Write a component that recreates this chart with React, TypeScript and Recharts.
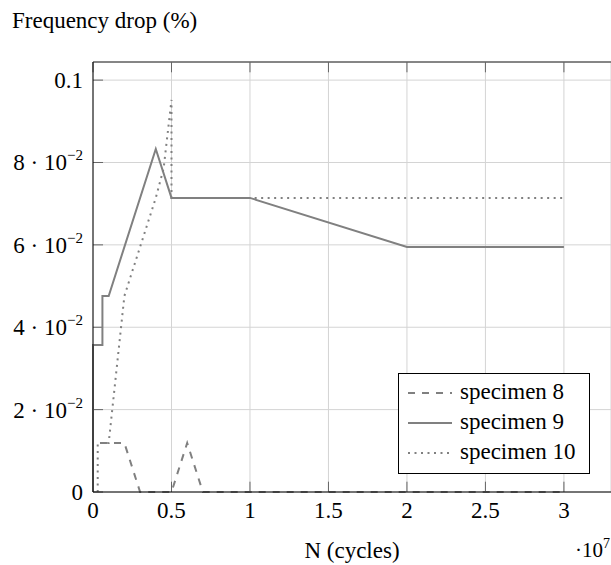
import React from "react";
import {
    LineChart,
    Line,
    XAxis,
    YAxis,
    CartesianGrid,
    Legend,
    ReferenceLine,
} from "recharts";

const FONT = "'Liberation Serif', 'DejaVu Serif', serif";
const GRAY = "#808080";

// axis ticks
const X_TICKS = [0, 0.5, 1, 1.5, 2, 2.5, 3];
const X_TICK_LABELS = ["0", "0.5", "1", "1.5", "2", "2.5", "3"];
const Y_TICKS = [0, 0.02, 0.04, 0.06, 0.08, 0.1];
const Y_TICK_BASE = ["0", "2 · 10", "4 · 10", "6 · 10", "8 · 10", "0.1"];
const Y_TICK_EXP = ["", "−2", "−2", "−2", "−2", ""];
const X_MAX = 3.3;
const Y_MAX = 0.1044;

// N (cycles, x 10^7) and frequency drop (%)
const spec8X = [0, 0, 0.2, 0.3, 0.5, 0.6, 0.7, 1, 2, 3];
const spec8Y = [0, 0.0119, 0.0119, 0, 0, 0.0119, 0, 0, 0, 0];

const spec9X = [0, 0, 0, 0.06, 0.06, 0.1, 0.4, 0.5, 1, 2, 3];
const spec9Y = [0, 0.0238, 0.0357, 0.0357, 0.0476, 0.0476, 0.0833, 0.0714, 0.0714, 0.0595, 0.0595];

const spec10X = [0.03, 0.03, 0.1, 0.2, 0.4, 0.45, 0.5, 0.5, 1, 2, 3];
const spec10Y = [0, 0.0119, 0.0119, 0.0476, 0.0714, 0.0786, 0.0952, 0.0714, 0.0714, 0.0714, 0.0714];

const zip = (xs: number[], ys: number[]) => xs.map((x, i) => ({ x, y: ys[i] }));

const SERIES = [
    { name: "specimen 8", data: zip(spec8X, spec8Y), dash: "7 7" },
    { name: "specimen 9", data: zip(spec9X, spec9Y), dash: undefined },
    { name: "specimen 10", data: zip(spec10X, spec10Y), dash: "2 4.5" },
];
const seriesIndex = (name: string) => SERIES.findIndex((s) => s.name === name);

// inward tick length in data units
const X_TICK_LEN = 0.064;
const Y_TICK_LEN = 0.0025;

const XTick = (props: any) => {
    const { x, y, payload } = props;
    const i = X_TICKS.indexOf(payload.value);
    return (
        <text x={x} y={y} dy={26} textAnchor="middle" fontFamily={FONT} fontSize={23} fill="#000">
            {X_TICK_LABELS[i]}
        </text>
    );
};

const YTick = (props: any) => {
    const { x, y, payload } = props;
    const i = Y_TICKS.indexOf(payload.value);
    return (
        <text x={x} y={y} dy={8} textAnchor="end" fontFamily={FONT} fontSize={23} fill="#000">
            <tspan>{Y_TICK_BASE[i]}</tspan>
            {Y_TICK_EXP[i] && (
                <tspan dy={-10} fontSize={15}>{Y_TICK_EXP[i]}</tspan>
            )}
        </text>
    );
};

const xAxisLabel = (props: any) => {
    const { x, y, width } = props.viewBox;
    return (
        <g>
            <text x={x + width / 2} y={y + 66} textAnchor="middle" fontFamily={FONT} fontSize={23} fill="#000">
                N (cycles)
            </text>
            <text x={x + width - 36} y={y + 65} fontFamily={FONT} fontSize={21} fill="#000">
                ·10<tspan dy={-9} fontSize={14}>7</tspan>
            </text>
        </g>
    );
};

const yAxisLabel = (props: any) => {
    const { y } = props.viewBox;
    return (
        <text x={12} y={y - 34} fontFamily={FONT} fontSize={23} fill="#000">
            Frequency drop (%)
        </text>
    );
};

const renderLegend = (props: any) => {
    const items = [...(props.payload || [])].sort(
        (a: any, b: any) => seriesIndex(a.value) - seriesIndex(b.value)
    );
    return (
        <svg width={192} height={101} style={{ display: "block" }}>
            <rect x={0.5} y={0.5} width={191} height={100} fill="#fff" stroke="#000" />
            {items.map((entry: any, i: number) => {
                const s = SERIES[seriesIndex(entry.value)];
                return (
                    <g key={entry.value}>
                        <line
                            x1={10}
                            x2={54}
                            y1={20 + i * 30}
                            y2={20 + i * 30}
                            stroke={entry.color}
                            strokeWidth={2}
                            strokeDasharray={s ? s.dash : undefined}
                        />
                        <text x={62} y={26 + i * 30} fontFamily={FONT} fontSize={23} fill="#000">
                            {entry.value}
                        </text>
                    </g>
                );
            })}
        </svg>
    );
};

export default function App() {
    return (
        <div style={{ position: "absolute", left: 0, top: 0, width: 611, height: 565, background: "#fff" }}>
            <LineChart width={611} height={565} margin={{ top: 62, right: 0, bottom: 0, left: 0 }}>
                <CartesianGrid stroke="#d4d4d4" strokeWidth={1} />
                <XAxis
                    dataKey="x"
                    type="number"
                    domain={[0, X_MAX]}
                    ticks={X_TICKS}
                    height={73}
                    tickLine={false}
                    tickSize={0}
                    tickMargin={0}
                    tick={<XTick />}
                    axisLine={{ stroke: "#000" }}
                    label={xAxisLabel}
                />
                <YAxis
                    type="number"
                    domain={[0, Y_MAX]}
                    ticks={Y_TICKS}
                    width={93}
                    tickLine={false}
                    tickSize={0}
                    tickMargin={10}
                    tick={<YTick />}
                    axisLine={{ stroke: "#000" }}
                    label={yAxisLabel}
                />
                <ReferenceLine y={Y_MAX} stroke="#222" />
                {X_TICKS.map((t) => (
                    <ReferenceLine
                        key={"xb" + t}
                        segment={[{ x: t, y: 0 }, { x: t, y: Y_TICK_LEN }]}
                        stroke="#666"
                    />
                ))}
                {X_TICKS.map((t) => (
                    <ReferenceLine
                        key={"xt" + t}
                        segment={[{ x: t, y: Y_MAX }, { x: t, y: Y_MAX - Y_TICK_LEN }]}
                        stroke="#666"
                    />
                ))}
                {Y_TICKS.map((t) => (
                    <ReferenceLine
                        key={"yl" + t}
                        segment={[{ x: 0, y: t }, { x: X_TICK_LEN, y: t }]}
                        stroke="#666"
                    />
                ))}
                {SERIES.map((s) => (
                    <Line
                        key={s.name}
                        data={s.data}
                        dataKey="y"
                        name={s.name}
                        type="linear"
                        stroke={GRAY}
                        strokeWidth={2}
                        strokeDasharray={s.dash}
                        dot={false}
                        activeDot={false}
                        isAnimationActive={false}
                    />
                ))}
                <Legend
                    layout="horizontal"
                    verticalAlign="middle"
                    align="center"
                    content={renderLegend}
                    wrapperStyle={{ position: "absolute", left: 398, top: 373, width: 192, height: 101 }}
                />
            </LineChart>
        </div>
    );
}
